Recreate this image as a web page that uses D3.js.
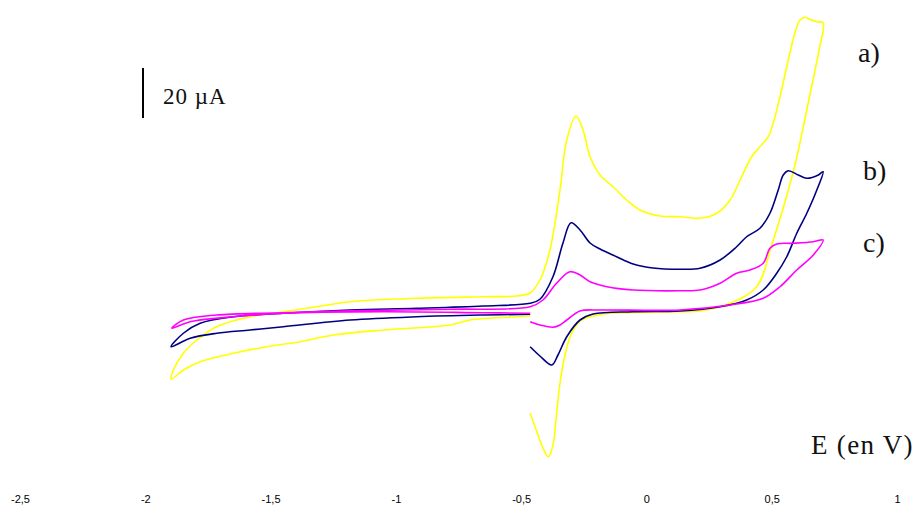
<!DOCTYPE html>
<html><head><meta charset="utf-8">
<script src="https://cdn.jsdelivr.net/npm/d3@7"></script>
<style>body{margin:0;background:#fff} svg{display:block}</style>
</head><body>
<svg id="chart" width="915" height="513"></svg>
<script>
// ---- data (E in V, I in µA) ----
const xTicks = [-2.5, -2, -1.5, -1, -0.5, 0, 0.5, 1];
const seriesLabels = ["a)", "b)", "c)"];
const scaleBarValue = 20; // µA
const curveA = [
  [-0.464,-40.4],[-0.437,-48],[-0.413,-54.4],[-0.391,-57.9],[-0.373,-53.2],[-0.361,-43.2],[-0.345,-28.5],[-0.325,-17.2],[-0.305,-10],[-0.285,-6],[-0.265,-3.6],[-0.225,-1.9],[-0.145,-0.5],[-0.026,-0.2],[0.134,0.1],[0.214,0.4],[0.334,3.5],[0.440,10.1],[0.500,26.8],[0.586,56.1],[0.640,80.8],[0.669,94.8],[0.689,104.8],[0.705,115.7],
  [0.680,116.1],[0.653,117],[0.633,117.9],[0.613,116.8],[0.600,114],[0.585,108.8],[0.566,100.8],[0.533,86.1],[0.506,75.5],[0.486,70.1],[0.453,66.1],[0.420,62.1],[0.374,52.8],[0.334,44.8],[0.281,39.5],[0.214,37.5],[0.134,38.1],[0.054,38.4],[-0.026,40.8],[-0.079,44.8],[-0.133,50.1],[-0.185,54.8],[-0.225,62.1],[-0.253,72.8],[-0.281,78.4],[-0.318,68.8],[-0.345,48.8],[-0.385,24.8],[-0.425,12.8],[-0.464,7.6],[-0.518,6.4],[-0.651,6.1],[-0.917,5.5],[-1.183,4.1],[-1.316,2.1],[-1.449,0.1],[-1.582,-1.9],[-1.715,-5.9],[-1.794,-11.2],[-1.848,-16.5],[-1.888,-23.2],[-1.897,-26.9],
  [-1.848,-23.2],[-1.781,-19.9],[-1.648,-16.5],[-1.515,-13.9],[-1.382,-11.9],[-1.249,-9.2],[-1.050,-7.2],[-0.784,-5.2],[-0.704,-3.2],[-0.518,-1.9],[-0.464,-1.6]
];
const curveB = [
  [-0.464,-13.9],[-0.425,-17.6],[-0.378,-21.2],[-0.353,-17.2],[-0.318,-9.9],[-0.265,-3.2],[-0.213,-0.8],[-0.053,0.1],[0.134,0.4],[0.294,2.1],[0.400,4.8],[0.466,8.8],[0.520,15.5],[0.560,22.1],[0.600,31.5],[0.640,39.5],[0.680,48.8],[0.705,56.1],
  [0.686,54.8],[0.640,53.5],[0.606,54.8],[0.566,56.5],[0.546,54.8],[0.526,48.8],[0.493,39.5],[0.453,33.5],[0.400,30.1],[0.360,26.1],[0.294,20.8],[0.214,17.5],[0.134,17.1],[0.026,17.6],[-0.053,19.2],[-0.119,22.1],[-0.185,25.2],[-0.225,27.6],[-0.265,32.8],[-0.301,35.7],[-0.333,27.6],[-0.373,14.1],[-0.425,5.1],[-0.464,3.5],[-0.651,2.4],[-0.917,1.5],[-1.183,0.8],[-1.449,-0.5],[-1.648,-1.9],[-1.781,-4.5],[-1.848,-8.5],[-1.897,-13.9],
  [-1.821,-10.5],[-1.715,-8.5],[-1.582,-7.2],[-1.449,-5.9],[-1.183,-3.2],[-0.917,-1.9],[-0.651,-1.2],[-0.464,-0.9]
];
const curveC = [
  [-0.464,-3.9],[-0.425,-5.2],[-0.373,-6.1],[-0.345,-5.2],[-0.318,-3.2],[-0.265,0.4],[-0.185,0.8],[0.134,0.8],[0.334,2.8],[0.466,5.5],[0.533,10.1],[0.600,16.8],[0.666,22.8],[0.705,28.8],
  [0.666,28.1],[0.586,27.5],[0.520,27.2],[0.493,25.5],[0.466,19.5],[0.413,16.8],[0.360,15.5],[0.294,11.5],[0.214,8.8],[0.134,8.5],[-0.053,8.8],[-0.158,10.1],[-0.225,12.1],[-0.265,14.8],[-0.305,16.1],[-0.358,11.6],[-0.413,4.8],[-0.464,2.1],[-0.784,1.1],[-1.183,0.5],[-1.449,-0.3],[-1.715,-1.2],[-1.848,-3.2],[-1.894,-6.5],
  [-1.821,-3.9],[-1.648,-1.9],[-1.449,-0.5],[-1.050,0.1],[-0.651,-0.3],[-0.464,-0.5]
];

// ---- drawing ----
const svg = d3.select("#chart");
const x = d3.scaleLinear().domain([-2.5, 1]).range([20, 897]);
const y = d3.scaleLinear().domain([-80, 124.8]).range([512, 0]);

const locale = d3.formatLocale({decimal: ",", thousands: ".", grouping: [3], currency: ["", ""], minus: "-"});
const fmt = locale.format("~g");

const axis = d3.axisBottom(x).tickValues(xTicks).tickSize(0).tickPadding(0).tickFormat(fmt);
const ax = svg.append("g").attr("transform", "translate(0,495)").call(axis);
ax.select(".domain").remove();
ax.selectAll("text").attr("font-family", "'Liberation Sans', Arial, sans-serif").attr("font-size", 11).attr("fill", "#000");

const line = d3.line().x(d => x(d[0])).y(d => y(d[1])).curve(d3.curveCatmullRom.alpha(0.5));
const curves = [
  {data: curveA, color: "#ffff00"},
  {data: curveB, color: "#000080"},
  {data: curveC, color: "#ff00ff"}
];
svg.selectAll("path.cv").data(curves).enter().append("path")
  .attr("class", "cv")
  .attr("d", d => line(d.data))
  .attr("fill", "none")
  .attr("stroke", d => d.color)
  .attr("stroke-width", 1.6)
  .attr("stroke-linejoin", "round");

// scale bar
const barTop = y(97.6);
svg.append("line")
  .attr("x1", 143).attr("x2", 143)
  .attr("y1", barTop).attr("y2", barTop + (y(0) - y(scaleBarValue)))
  .attr("stroke", "#000").attr("stroke-width", 2);
const serif = "'Liberation Serif', 'Times New Roman', serif";
svg.append("text").attr("x", 163).attr("y", 104)
  .attr("font-family", serif).attr("font-size", 23).attr("letter-spacing", 1)
  .attr("fill", "#111")
  .text(scaleBarValue + " µA");

const labelPos = [[858, 62], [863, 180], [863, 252]];
seriesLabels.forEach((t, i) => {
  svg.append("text").attr("x", labelPos[i][0]).attr("y", labelPos[i][1])
    .attr("font-family", serif).attr("font-size", 28).attr("fill", "#111").text(t);
});
svg.append("text").attr("x", 811).attr("y", 454)
  .attr("font-family", serif).attr("font-size", 27).attr("letter-spacing", 1.3)
  .attr("fill", "#111")
  .text("E (en V)");
</script>
</body></html>
